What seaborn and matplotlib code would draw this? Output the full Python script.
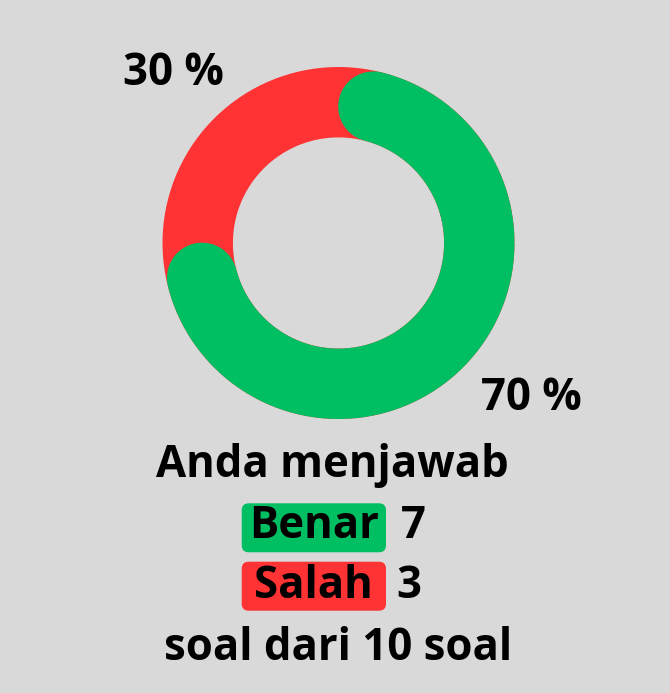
"""
Donut score card: Benar vs Salah
"""
import numpy as np
import pandas as pd
import matplotlib
matplotlib.use("Agg")
import matplotlib.pyplot as plt
from matplotlib.patches import FancyBboxPatch
import seaborn as sns

# --- data -------------------------------------------------------------------
labels = ["Benar", "Salah"]
counts = [7, 3]
pct_labels = ["70 %", "30 %"]
colors = ["#00bf63", "#ff3333"]
headline = "Anda menjawab"
footer = "soal dari 10 soal"

BG = "#d9d9d9"
W, H = 670, 693
CX, CY = 338.5, 243.0        # ring centre (px)
R_MID, RING_W = 140.8, 70.4  # mid radius and ring thickness (px)

sns.set_theme(style="white", rc={"figure.facecolor": BG, "axes.facecolor": BG})
plt.rcParams["font.family"] = ["Open Sans", "DejaVu Sans"]

fig = plt.figure(figsize=(W / 100, H / 100), dpi=100)
ax = fig.add_axes([0, 0, 1, 1])
ax.set_xlim(0, W)
ax.set_ylim(H, 0)
ax.axis("off")

lw_pt = RING_W * 72 / 100  # ring thickness in points


def arc_frame(a0, a1, n=400):
    # angles in degrees, clockwise from 12 o'clock
    t = np.radians(np.linspace(a0, a1, n))
    return pd.DataFrame({"x": CX + R_MID * np.sin(t), "y": CY - R_MID * np.cos(t)})


total = sum(counts)
share = counts[0] / total

# red: full ring underneath
red = arc_frame(90, 450)
sns.lineplot(data=red, x="x", y="y", sort=False, estimator=None, ax=ax,
             color=colors[1], linewidth=lw_pt, solid_capstyle="butt")

# green: rounded arc on top, tip-to-tip sweep as in the design
cap_deg = np.degrees((RING_W / 2) / R_MID)
tip_sweep = share * 360 + 18
green = arc_frame(cap_deg, tip_sweep - cap_deg)
sns.lineplot(data=green, x="x", y="y", sort=False, estimator=None, ax=ax,
             color=colors[0], linewidth=lw_pt, solid_capstyle="round")

fs = 31.5
txt = dict(fontsize=fs, fontweight="bold", color="black", va="baseline")

# percentage labels
ax.text(173.5, 85, pct_labels[1], ha="center", **txt)
ax.text(531.7, 410, pct_labels[0], ha="center", **txt)

# summary text
ax.text(332, 476.7, headline, ha="center", **txt)

box_x0, box_w, box_h = 241.7, 144.3, 49
box_tops = [503.3, 561.7]
baselines = [538, 598.3]
num_x = [401, 396]
for lab, cnt, col, top, base, nx in zip(labels, counts, colors, box_tops, baselines, num_x):
    ax.add_patch(FancyBboxPatch((box_x0, top), box_w, box_h,
                                boxstyle="round,pad=0,rounding_size=7",
                                facecolor=col, edgecolor="none"))
    ax.text(box_x0 + box_w / 2, base, lab, ha="center", **txt)
    ax.text(nx, base, str(cnt), ha="left", **txt)

ax.text(338.3, 660, footer, ha="center", **txt)

fig.savefig("out.png", dpi=100, facecolor=BG)
